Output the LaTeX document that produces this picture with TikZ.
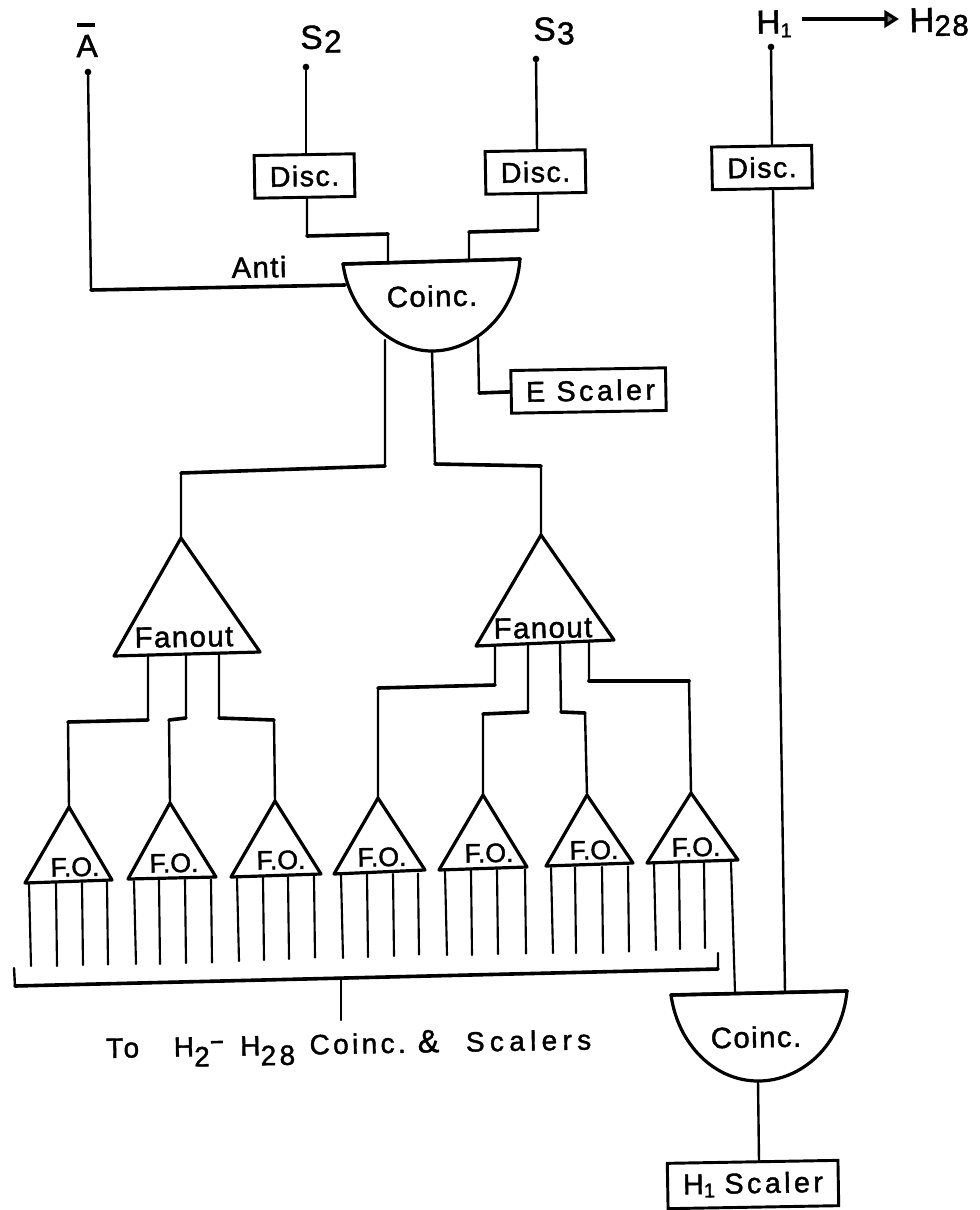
\documentclass[tikz,border=0pt]{standalone}
\usepackage{fontspec}
\setmainfont[FakeBold=1.5]{Liberation Sans}
\newfontfamily\wide[LetterSpace=5,FakeBold=1.5]{Liberation Sans}
\newfontfamily\wider[LetterSpace=12,FakeBold=1.5]{Liberation Sans}
\newfontfamily\widest[LetterSpace=19,FakeBold=1.5]{Liberation Sans}
\usetikzlibrary{arrows.meta}
\newcommand{\lowd}[2][.8]{\raisebox{-.12em}{\scalebox{#1}{#2}}}
\newcommand{\lowsub}[1]{\raisebox{-.36em}{#1}}
\newcommand{\fsz}[1]{\fontsize{#1}{#1}\selectfont}
\tikzset{
  wire/.style={line width=1.8pt,line cap=round,line join=round},
  hwire/.style={line width=2.7pt,line cap=round},
  leg/.style={line width=1.6pt,line cap=round},
  gate/.style={line width=2.4pt,line join=round,fill=white},
  boxn/.style={draw,line width=2.2pt,rectangle,inner sep=0pt,rotate=1,font=\wide\fsz{21.5pt}},
  lab/.style={inner sep=0pt,rotate=1},
  dotn/.style={circle,fill=black,inner sep=0pt,minimum size=5pt},
}
% name, apex x,y; left x,y; right x,y
\newcommand{\tri}[7]{%
  \draw[gate] (#2,#3) coordinate (#1a) -- (#4,#5) coordinate (#1l) -- (#6,#7) coordinate (#1r) -- cycle;}
\newcommand{\folegs}[8]{% x1..x4 ; top y ; bot y1..y3 (fourth below)
  \draw[leg] (#1,#5) -- (#1+2,#6) (#2,#5-0.5) -- (#2+1,#7) (#3,#5-1) -- (#3+1,#8);
  \coordinate (legx) at (#4,#5-1.5);}
\begin{document}
\begin{tikzpicture}[x=0.75pt,y=-0.75pt]
\useasboundingbox (0,0) rectangle (980,1210);
% Input points
\node[dotn] (pa) at (88,72) {};
\node[dotn] (ps2) at (306,67) {};
\node[dotn] (ps3) at (536,59) {};
\node[dotn] (ph1) at (771,47) {};
% Input labels
\node[lab,font=\fsz{24pt}] (la) at (87,46) {A};
\draw[line width=2.4pt] (77,25) coordinate (abl) -- (95,25) coordinate (abr);
\node[lab,font=\fsz{25pt}] (ls2) at (321,39) {S\hspace{1pt}\lowd[.95]{2}};
\node[lab,font=\fsz{25pt}] (ls3) at (554,31) {S\hspace{1pt}\lowd[.95]{3}};
\node[lab,font=\fsz{25pt}] (lh1) at (774,24) {H\lowd[.6]{1}};
\node[lab,font=\wide\fsz{26pt}] (lh28) at (939,22) {H\lowd[.85]{28}};
\coordinate (ah1) at (802,19);
\coordinate (ah2) at (899,19);
\draw[line width=2.4pt,-{Triangle[length=11pt,width=13pt,fill=black!50]}] (ah1) -- (ah2);
% Discriminators
\node[boxn,minimum width=75pt,minimum height=32pt] (d2) at (304.5,176) {Disc.};
\node[boxn,minimum width=75pt,minimum height=32pt] (d3) at (535.5,172) {Disc.};
\node[boxn,minimum width=75pt,minimum height=32pt] (d1) at (762,167.5) {Disc.};
\node[boxn,minimum width=116pt,minimum height=32pt,font=\wider\fsz{21.5pt}] (es) at (588.5,390.5) {\hspace{3pt}E Scaler};
\node[boxn,minimum width=128pt,minimum height=34pt,font=\wider\fsz{21.5pt}] (hs) at (753,1184.5) {H\lowd[.7]{1}\,\,Scaler};
% Coincidence units
\draw[gate] (343,264) coordinate (c1tl) .. controls (350,315) and (392,351) .. (432,351) coordinate (c1b) .. controls (474,351) and (516,315) .. (520,259) coordinate (c1tr) -- cycle;
\node[lab,font=\wide\fsz{22pt}] (c1) at (432,296) {Coinc.};
\draw[gate] (671,995) coordinate (c2tl) .. controls (678,1045) and (715,1081) .. (758,1081) coordinate (c2b) .. controls (802,1081) and (842,1045) .. (847,991) coordinate (c2tr) -- cycle;
\node[lab,font=\wide\fsz{22pt}] (c2) at (756,1037) {Coinc.};
\draw[hwire] (c1tl) -- (c1tr);
\draw[hwire] (c2tl) -- (c2tr);
% Fanouts
\tri{fl}{181}{538}{114}{656}{260}{652}
\node[lab,font=\wide\fsz{22pt}] (tfl) at (184,637) {Fanout};
\tri{fr}{541}{535}{476}{646}{614}{640}
\node[lab,font=\wide\fsz{22pt}] (tfr) at (543,628) {Fanout};
\tri{fa}{69}{807}{25}{883}{112}{880}
\tri{fb}{170}{803}{128}{879}{216}{877}
\tri{fc}{275}{801}{231}{877}{321}{874}
\tri{fd}{378}{798}{334}{874}{425}{870}
\tri{fe}{483}{795}{439}{870}{527}{867}
\tri{ff}{587}{795}{546}{866}{633}{863}
\tri{fg}{691}{793}{647}{863}{738}{860}
\node[lab,font=\fsz{20pt}] (ta) at (75,867) {F.O.};
\node[lab,font=\fsz{20pt}] (tb) at (174,863) {F.O.};
\node[lab,font=\fsz{20pt}] (tc) at (281,860) {F.O.};
\node[lab,font=\fsz{20pt}] (td) at (382,857) {F.O.};
\node[lab,font=\fsz{20pt}] (te) at (489,853) {F.O.};
\node[lab,font=\fsz{20pt}] (tf) at (594,850) {F.O.};
\node[lab,font=\fsz{20pt}] (tg) at (696,847) {F.O.};
% Wires
\coordinate (d2b) at (307,198); \coordinate (d3b) at (538,194); \coordinate (d1b) at (773,189);
\coordinate (d2t) at (306,154); \coordinate (d3t) at (537,150); \coordinate (d1t) at (772,146);
\draw[wire] (pa) -- (91,290) -- (345,285) coordinate (c1anti);
\draw[hwire] (91,290) -- (c1anti);
\draw[wire] (ps2) -- (d2t);
\draw[wire] (ps3) -- (d3t);
\draw[wire] (ph1) -- (d1t);
\draw[wire] (d2b) -- (307,236) -- (388,234) -- (388,262) coordinate (c1i1);
\draw[hwire] (307,236) -- (388,234);
\draw[wire] (d3b) -- (538,230) -- (469,232) -- (469,260) coordinate (c1i2);
\draw[hwire] (538,230) -- (469,232);
\draw[wire] (d1b) -- (785,992) coordinate (c2i2);
\draw[wire] (385,340) coordinate (c1o1) -- (385,466) -- (181,473) -- (fla);
\draw[hwire] (385,466) -- (181,473);
\draw[wire] (c1b) -- (435,464) -- (541,466) -- (fra);
\draw[hwire] (435,464) -- (541,466);
\draw[wire] (478,338) coordinate (c1o3) -- (479,393) -- (es.west);
\draw[hwire] (479,393) -- (es.west);
\draw[wire] (c2b) -- (759,1161) coordinate (hst);
% Fanout to F.O.
\draw[wire] (148,655) -- (148,720) -- (68,722) -- (faa);
\draw[hwire] (148,720) -- (68,722);
\draw[wire] (186,654) -- (186,718) -- (169,720) -- (fba);
\draw[hwire] (186,718) -- (169,720);
\draw[wire] (219,653) -- (219,718) -- (274,720) -- (fca);
\draw[hwire] (219,718) -- (274,720);
\draw[wire] (495,645) -- (495,685) -- (378,688) -- (fda);
\draw[hwire] (495,685) -- (378,688);
\draw[wire] (528,644) -- (528,712) -- (483,714) -- (fea);
\draw[hwire] (528,712) -- (483,714);
\draw[wire] (560,643) -- (561,712) -- (585,713) -- (ffa);
\draw[hwire] (561,712) -- (585,713);
\draw[wire] (589,642) -- (589,681) -- (689,681) -- (fga);
\draw[hwire] (589,681) -- (689,681);
% Legs
\folegs{29}{56}{82}{107}{884}{966}{966}{965} \draw[leg] (legx) -- ++(1,82);
\folegs{134}{159}{185}{211}{881}{964}{964}{963} \draw[leg] (legx) -- ++(1,83);
\folegs{237}{263}{288}{314}{878}{961}{960}{959} \draw[leg] (legx) -- ++(1,81);
\folegs{341}{367}{393}{418}{875}{958}{957}{956} \draw[leg] (legx) -- ++(1,81);
\folegs{445}{471}{497}{525}{871}{955}{955}{954} \draw[leg] (legx) -- ++(1,84);
\folegs{551}{575}{602}{628}{868}{953}{953}{953} \draw[leg] (legx) -- ++(1,85);
\folegs{654}{679}{704}{731}{864}{950}{949}{948} \draw[leg] (legx) -- (735,992);
% Bracket
\draw[wire] (14,968) -- (15,986) -- (718,969) -- (718,953);
\draw[hwire] (15,986) -- (718,969);
\draw[wire] (341,979) -- (341,1020);
\node[lab,font=\wider\fsz{21pt},anchor=west] (bt) at (106,1052) {To\hspace{26pt}H\lowsub{2}\hspace{1pt}\rule[.45em]{9pt}{2pt}\hspace{13pt}H\lowsub{28}\hspace{11pt}Coinc.\hspace{9pt}\scalebox{1.15}{\&}\hspace{20pt}{\widest Scalers}};
\node[lab,font=\wide\fsz{22pt}] (tanti) at (259,267) {Anti};
\end{tikzpicture}
\end{document}
